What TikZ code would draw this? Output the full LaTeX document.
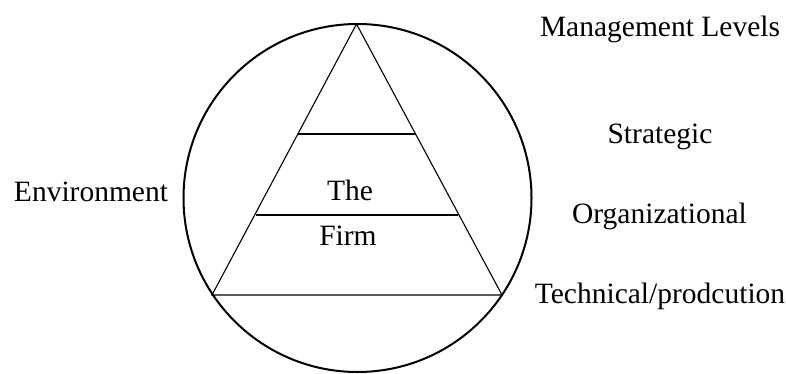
\documentclass[tikz,border=0pt]{standalone}
\usepackage{fontspec}
\setmainfont{Liberation Serif}
\begin{document}
\begin{tikzpicture}[x=1pt,y=-1pt,
  lbl/.style={inner sep=0pt,font=\fontsize{29.5}{33}\selectfont,anchor=center},
  pyr/.style={line width=1.1pt},
  env/.style={line width=2pt}]
\useasboundingbox (0,0) rectangle (786,374);
% environment circle
\draw[env] (357.5,198) circle[radius=174];
% pyramid
\coordinate (apex) at (356.5,24);
\coordinate (bl) at (212,295);
\coordinate (br) at (502,295);
\coordinate (s1l) at (298,134);
\coordinate (s1r) at (416,134);
\coordinate (s2l) at (256,215);
\coordinate (s2r) at (458,215);
\draw[pyr] (bl) -- (apex) -- (br) -- cycle;
\draw[pyr] (s1l) -- (s1r);
\draw[pyr] (s2l) -- (s2r);
% labels
\node[lbl] (the) at (350,190) {The};
\node[lbl] (firm) at (348,236) {Firm};
\node[lbl] (envl) at (91,192) {Environment};
\node[lbl] (mgmt) at (660,29) {Management Levels};
\node[lbl] (strat) at (660,137) {Strategic};
\node[lbl] (org) at (659.5,216) {Organizational};
\node[lbl] (tech) at (660,296) {Technical/prodcution};
\end{tikzpicture}
\end{document}
